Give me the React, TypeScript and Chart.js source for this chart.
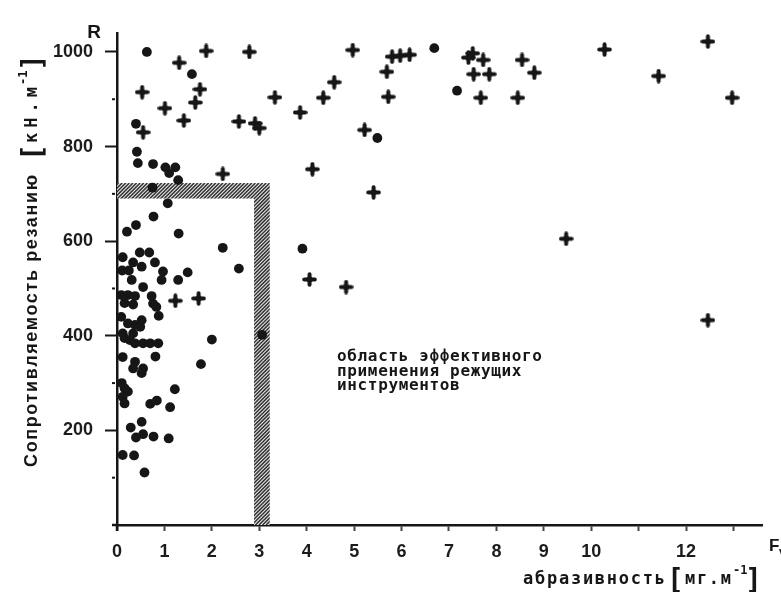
import React, { useEffect, useRef } from 'react';
import { Chart, registerables } from 'chart.js';

Chart.register(...registerables);

// ---- data ----
const dotX = [
  0.63, 1.58, 0.40, 0.42, 0.44, 0.76, 1.02, 1.23, 1.10, 1.29, 0.75, 1.07, 0.77, 0.40, 0.21, 1.30,
  2.23, 2.57, 3.91, 5.49, 6.69, 7.17, 0.48, 0.68, 0.12, 0.34, 0.52, 0.80, 0.11, 0.25, 0.97, 1.49,
  0.94, 1.29, 0.31, 0.55, 0.09, 0.23, 0.38, 0.73, 0.16, 0.34, 0.76, 0.83, 0.88, 0.09, 0.23, 0.38,
  0.52, 0.49, 0.34, 0.12, 2.00, 3.06, 0.16, 0.27, 0.38, 0.55, 0.70, 0.87, 0.12, 0.81, 1.77, 0.38,
  0.34, 0.55, 0.52, 0.10, 0.16, 0.23, 0.12, 0.16, 1.22, 0.70, 0.84, 1.12, 0.52, 0.29, 0.40, 0.55,
  0.77, 1.09, 0.12, 0.36, 0.58,
];
const dotY = [
  1000, 953, 848, 789, 765, 763, 756, 756, 744, 729, 713, 680, 652, 634, 620, 616,
  586, 542, 584, 818, 1008, 918, 576, 576, 566, 555, 546, 555, 538, 538, 536, 534,
  518, 518, 518, 503, 486, 486, 484, 484, 469, 466, 468, 461, 442, 440, 426, 423,
  433, 419, 405, 405, 392, 402, 395, 391, 384, 384, 384, 384, 355, 356, 340, 345,
  331, 331, 321, 300, 289, 282, 271, 257, 287, 256, 263, 249, 218, 206, 185, 192,
  187, 183, 148, 147, 111,
];
const plusX = [
  1.88, 2.79, 1.31, 1.75, 0.53, 1.65, 3.33, 1.01, 1.41, 2.57, 2.91, 3.00, 0.55, 2.23,
  4.97, 5.80, 5.97, 6.17, 5.69, 4.58, 4.35, 5.72, 3.86, 5.22, 4.12, 5.41, 4.06, 4.83,
  7.41, 7.50, 7.72, 7.52, 7.85, 8.54, 8.80, 7.67, 8.45, 10.28, 12.46, 11.42, 12.97,
  9.47, 12.46, 1.23, 1.72,
];
const plusY = [
  1002, 1000, 977, 921, 915, 893, 904, 881, 855, 853, 849, 839, 830, 742,
  1004, 990, 992, 994, 958, 936, 903, 905, 872, 835, 752, 703, 519, 503,
  988, 997, 983, 953, 953, 983, 956, 903, 903, 1005, 1022, 949, 903,
  605, 433, 474, 479,
];

const xTickValues = [0, 1, 2, 3, 4, 5, 6, 7, 8, 9, 10, 11, 12, 13];
const xTickLabels = ['0', '1', '2', '3', '4', '5', '6', '7', '8', '9', '10', '', '12', ''];
const yTickValues = [0, 100, 200, 300, 400, 500, 600, 700, 800, 900, 1000];
const yTickLabels = ['', '', '200', '', '400', '', '600', '', '800', '', '1000'];

// limits of the hatched boundary of the effective region
const regionAbrasivity = [2.89, 3.22];
const regionResistance = [690, 723];

const yTitleText = 'Сопротивляемость резанию';
const yUnitText = 'кН.м';
const xTitleText = 'абразивность';
const xUnitText = 'мг.м';
const unitPower = '-1';
const noteLines = ['область эффективного', 'применения режущих', 'инструментов'];
const topLetter = 'R';
const rightLetter = 'F';
const rightSub = 'v';

const INK = '#161616';
const SANS = '"Liberation Sans", Arial, sans-serif';
const MONO = '"DejaVu Sans Mono", "Liberation Mono", monospace';

function spacedText(ctx: any, text: string, x: number, y: number, spacing: number) {
  if ('letterSpacing' in ctx) {
    ctx.letterSpacing = spacing + 'px';
    ctx.fillText(text, x, y);
    ctx.letterSpacing = '0px';
  } else {
    const w = ctx.measureText(text).width;
    const n = Array.from(text).length;
    const target = w + spacing * (n - 1);
    ctx.save();
    ctx.translate(x, y);
    ctx.scale(target / w, 1);
    ctx.fillText(text, 0, 0);
    ctx.restore();
  }
}

function spacingFor(ctx: any, text: string, target: number) {
  const w = ctx.measureText(text).width;
  const n = Array.from(text).length;
  return n > 1 ? (target - w) / (n - 1) : 0;
}

function makePlus(): HTMLCanvasElement {
  const c = document.createElement('canvas');
  c.width = 15;
  c.height = 15;
  const g = c.getContext('2d')!;
  g.strokeStyle = INK;
  g.fillStyle = INK;
  g.lineWidth = 4;
  g.lineCap = 'round';
  g.beginPath();
  g.moveTo(7.5, 2.2);
  g.lineTo(7.5, 12.8);
  g.moveTo(2.2, 7.5);
  g.lineTo(12.8, 7.5);
  g.stroke();
  g.beginPath();
  g.moveTo(7.5, 3.0);
  g.lineTo(12.0, 7.5);
  g.lineTo(7.5, 12.0);
  g.lineTo(3.0, 7.5);
  g.closePath();
  g.fill();
  return c;
}

const hatchPlugin = {
  id: 'hatchRegion',
  beforeDatasetsDraw(chart: any) {
    const { ctx, scales } = chart;
    const xs = scales.x;
    const ys = scales.y;
    const x0 = xs.getPixelForValue(0);
    const x1 = xs.getPixelForValue(regionAbrasivity[0]);
    const x2 = xs.getPixelForValue(regionAbrasivity[1]);
    const yb = ys.getPixelForValue(0);
    const yt = ys.getPixelForValue(regionResistance[1]);
    const yl = ys.getPixelForValue(regionResistance[0]);
    ctx.save();
    ctx.beginPath();
    ctx.rect(x1, yt, x2 - x1, yb - yt);
    ctx.rect(x0, yt, x2 - x0, yl - yt);
    ctx.fillStyle = '#e8e8e8';
    ctx.fill();
    ctx.clip();
    ctx.strokeStyle = '#333333';
    ctx.lineWidth = 1.5;
    ctx.beginPath();
    const h = yb - yt;
    for (let k = -h - 20; k < x2 - x0 + 20; k += 3.6) {
      ctx.moveTo(x0 + k, yb);
      ctx.lineTo(x0 + k + h, yt);
    }
    ctx.stroke();
    ctx.restore();
  },
};

const textPlugin = {
  id: 'decorations',
  afterDraw(chart: any) {
    const { ctx, scales } = chart;
    const xs = scales.x;
    const ys = scales.y;
    const ax = xs.getPixelForValue(0);
    const ay = ys.getPixelForValue(0);
    ctx.save();
    ctx.fillStyle = INK;
    ctx.strokeStyle = INK;

    // little extensions of the axes through the origin
    ctx.lineWidth = 2.5;
    ctx.beginPath();
    ctx.moveTo(ax - 5, ay);
    ctx.lineTo(ax, ay);
    ctx.moveTo(ax, ay);
    ctx.lineTo(ax, ay + 6);
    ctx.stroke();

    // minor ticks on the y axis
    for (const v of yTickValues) {
      if (v % 200 === 100) {
        const py = ys.getPixelForValue(v);
        ctx.fillRect(ax - 5, py - 1, 3, 2);
      }
    }

    // R at the top of the y axis
    ctx.font = `bold 19px ${SANS}`;
    ctx.textAlign = 'center';
    ctx.textBaseline = 'alphabetic';
    ctx.fillText(topLetter, 94, 38);

    // F_v at the right end of x axis
    ctx.textAlign = 'left';
    ctx.font = `bold 17px ${SANS}`;
    ctx.fillText(rightLetter, 769, 551);
    ctx.font = `bold 11px ${SANS}`;
    ctx.fillText(rightSub, 779, 555);

    // x axis title
    ctx.font = `bold 17px ${MONO}`;
    ctx.textBaseline = 'alphabetic';
    spacedText(ctx, xTitleText, 523, 584, spacingFor(ctx, xTitleText, 142));
    ctx.font = `bold 28px ${MONO}`;
    ctx.fillText('[', 667, 589);
    ctx.font = `bold 17px ${MONO}`;
    spacedText(ctx, xUnitText, 685, 584, spacingFor(ctx, xUnitText, 46));
    ctx.font = `bold 12px ${MONO}`;
    spacedText(ctx, unitPower, 733, 574, 0);
    ctx.font = `bold 28px ${MONO}`;
    ctx.fillText(']', 745, 589);

    // y axis title, rotated
    ctx.save();
    ctx.translate(37, 467);
    ctx.rotate(-Math.PI / 2);
    ctx.font = `bold 18px ${SANS}`;
    ctx.textBaseline = 'alphabetic';
    spacedText(ctx, yTitleText, 0, 0, spacingFor(ctx, yTitleText, 292));
    ctx.font = `bold 28px ${MONO}`;
    ctx.fillText('[', 306, 5);
    ctx.font = `bold 17px ${MONO}`;
    spacedText(ctx, yUnitText, 324, 0, spacingFor(ctx, yUnitText, 56));
    ctx.font = `bold 12px ${MONO}`;
    spacedText(ctx, unitPower, 382, -10, 0);
    ctx.font = `bold 28px ${MONO}`;
    ctx.fillText(']', 396, 5);
    ctx.restore();

    // annotation
    ctx.font = `bold 16px ${MONO}`;
    const sp = spacingFor(ctx, noteLines[0], 205);
    const base = [361, 375.5, 390];
    noteLines.forEach((line, i) => spacedText(ctx, line, 337, base[i], sp));

    ctx.restore();
  },
};

export default function App() {
  const ref = useRef<HTMLCanvasElement | null>(null);

  useEffect(() => {
    if (!ref.current) return;
    const plus = makePlus();
    const tickFont = { family: SANS, size: 18, weight: 'bold' as const };
    const chart = new Chart(ref.current, {
      type: 'scatter',
      data: {
        datasets: [
          {
            label: 'dots',
            data: dotX.map((x, i) => ({ x, y: dotY[i] })),
            pointStyle: 'circle',
            pointRadius: 4.9,
            backgroundColor: INK,
            borderColor: INK,
            borderWidth: 0,
          },
          {
            label: 'plus',
            data: plusX.map((x, i) => ({ x, y: plusY[i] })),
            pointStyle: plus as any,
            pointRadius: 7,
            backgroundColor: INK,
            borderColor: INK,
            borderWidth: 0,
          },
        ],
      },
      options: {
        responsive: false,
        animation: false,
        devicePixelRatio: 1,
        layout: { padding: { left: 0, top: 33, right: 19, bottom: 0 } },
        plugins: {
          legend: { display: false },
          tooltip: { enabled: false },
          title: { display: false },
        },
        scales: {
          x: {
            type: 'linear',
            min: 0,
            max: 13.6,
            afterBuildTicks: (s: any) => {
              s.ticks = xTickValues.map((v) => ({ value: v }));
            },
            afterFit: (s: any) => {
              s.height = 67;
            },
            ticks: {
              autoSkip: false,
              maxRotation: 0,
              padding: 10,
              color: '#1c1c1c',
              font: tickFont,
              callback: (v: any) => xTickLabels[xTickValues.indexOf(Number(v))] ?? '',
            },
            grid: {
              drawOnChartArea: false,
              drawTicks: true,
              tickLength: 6,
              tickWidth: 2,
              tickColor: '#444',
            },
            border: { display: true, color: INK, width: 2.5 },
          },
          y: {
            type: 'linear',
            min: 0,
            max: 1040,
            afterBuildTicks: (s: any) => {
              s.ticks = yTickValues.map((v) => ({ value: v }));
            },
            afterFit: (s: any) => {
              s.width = 117;
            },
            ticks: {
              autoSkip: false,
              padding: 12,
              color: '#1c1c1c',
              font: tickFont,
              callback: (v: any) => yTickLabels[yTickValues.indexOf(Number(v))] ?? '',
            },
            grid: {
              drawOnChartArea: false,
              drawTicks: true,
              tickLength: 12,
              tickWidth: 2,
              tickColor: (c: any) =>
                c.tick && c.tick.value % 200 === 0 && c.tick.value !== 0 ? INK : 'rgba(0,0,0,0)',
            },
            border: { display: true, color: INK, width: 2.5 },
          },
        },
      },
      plugins: [hatchPlugin, textPlugin],
    });
    return () => chart.destroy();
  }, []);

  return (
    <div style={{ position: 'absolute', left: 0, top: 0, width: 781, height: 592, background: '#ffffff', overflow: 'hidden' }}>
      <canvas ref={ref} width={781} height={592} style={{ display: 'block' }} />
    </div>
  );
}
